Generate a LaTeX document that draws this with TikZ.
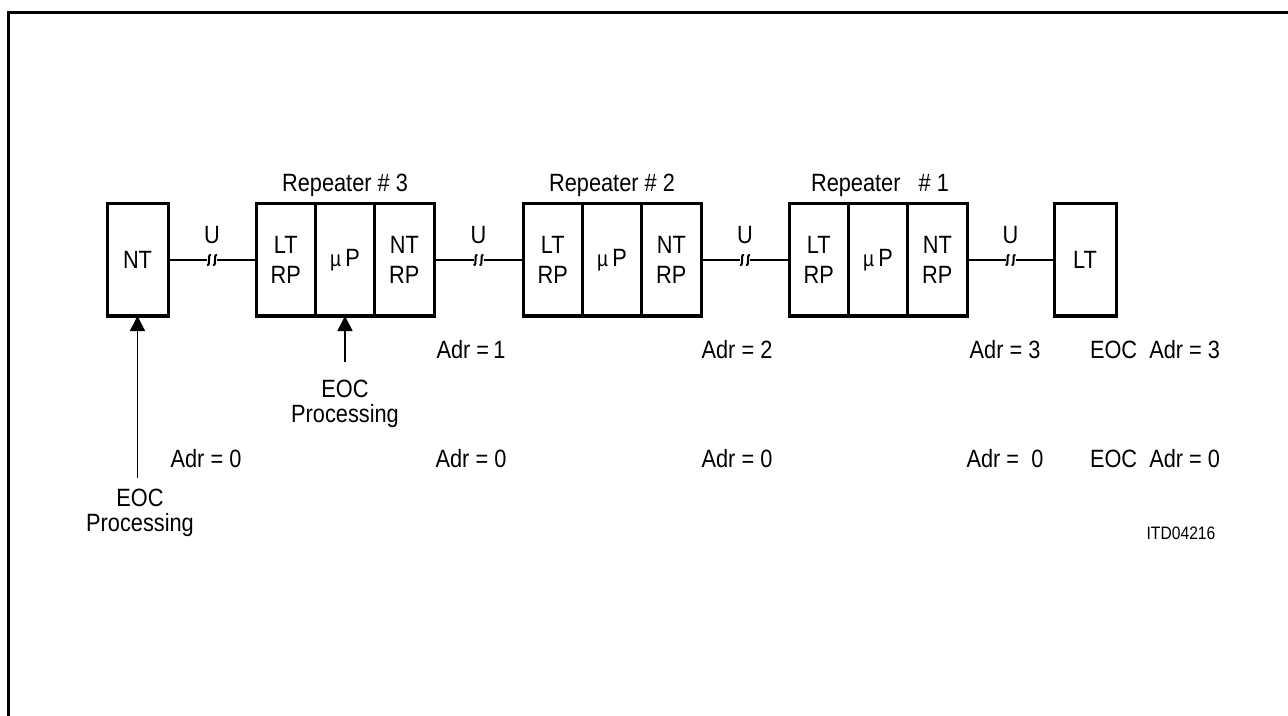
\documentclass[tikz,border=0pt]{standalone}
\usepackage{fontspec}
\setmainfont{Liberation Sans}[FakeStretch=0.87]
\usetikzlibrary{arrows.meta,calc}

\tikzset{
  cell/.style={draw,line width=1.5pt,outer sep=0pt,inner sep=0pt,
    minimum width=29.7pt,minimum height=56pt,align=center,
    font=\fontsize{12.5}{15}\selectfont},
  uline/.style={line width=0.9pt},
  feed/.style={line width=0.9pt,-{Triangle[width=7.5pt,length=7.5pt]}},
  brk/.pic={
    \draw[line width=1pt] (-1,-5) .. controls (-3.5,-5.5) and (-3,-2) .. (-3,0)
      .. controls (-3,2) and (-2.5,5.5) .. (-5,5);
    \draw[line width=1pt] (5,-5) .. controls (2.5,-5.5) and (3,-2) .. (3,0)
      .. controls (3,2) and (3.5,5.5) .. (1,5);
  }
}

\begin{document}
\begin{tikzpicture}[x=0.5pt,y=-0.5pt,font=\fontsize{12.5}{12.5}\selectfont]
    \useasboundingbox (0,0) rectangle (1288,716);
    % frame
    \draw[line width=1.5pt] (8.5,716) -- (8.5,12.5) -- (1288,12.5);

    % end boxes
    \node[cell,minimum width=30.5pt] (nt) at (137.5,260) {NT};
    \node[cell,minimum width=31pt] (lt) at (1085,260) {LT};

    % repeaters: three cells each
    \foreach \nm/\x/\num in {r3/256/3, r2/523/2, r1/789/1}{
      \node[cell] (\nm a) at (\x+29.7,260) {LT\\RP};
      \node[cell] (\nm b) at (\x+89,260) {{\fontsize{11}{11}\selectfont µ}\,P};
      \node[cell] (\nm c) at (\x+148.3,260) {NT\\RP};
    }
    \node (t3) at (345,185) {Repeater \# 3};
    \node (t2) at (612,185) {Repeater \# 2};
    \node (t1) at (880,185) {Repeater\ \ \ \# 1};

    % U interfaces
    \foreach \a/\b/\m in {nt/r3a/u1, r3c/r2a/u2, r2c/r1a/u3, r1c/lt/u4}{
      \coordinate (\m) at ($(\a.east)!0.5!(\b.west)$);
      \draw[uline] (\a.east) -- ([xshift=-2.5pt]\m);
      \draw[uline] ([xshift=2.5pt]\m) -- (\b.west);
      \pic at (\m) {brk};
      \node at ([yshift=12.5pt]\m) {U};
    }

    % addresses
    \foreach \x/\lab in {471/{Adr =\,1}, 737/{Adr = 2}, 1005/{Adr = 3}, 1155/{EOC\ \ Adr = 3}}{
      \node at (\x,350) {\lab};
    }
    \foreach \x/\lab in {206/{Adr = 0}, 471/{Adr = 0}, 737/{Adr = 0}, 1005/{Adr =\ \ 0}, 1155/{EOC\ \ Adr = 0}}{
      \node at (\x,459) {\lab};
    }

    % EOC processing
    \coordinate (f3) at (345,362);
    \draw[feed] (f3) -- (r3b.south);
    \node[align=center] (ep3) at (345,404) {EOC\\Processing};
    \coordinate (f0) at (137.5,478);
    \draw[feed] (f0) -- (nt.south);
    \node[align=center] (ep0) at (140,513) {EOC\\Processing};

    \node[font=\fontsize{9}{11}\selectfont] (id) at (1181,533) {ITD04216};
\end{tikzpicture}
\end{document}
